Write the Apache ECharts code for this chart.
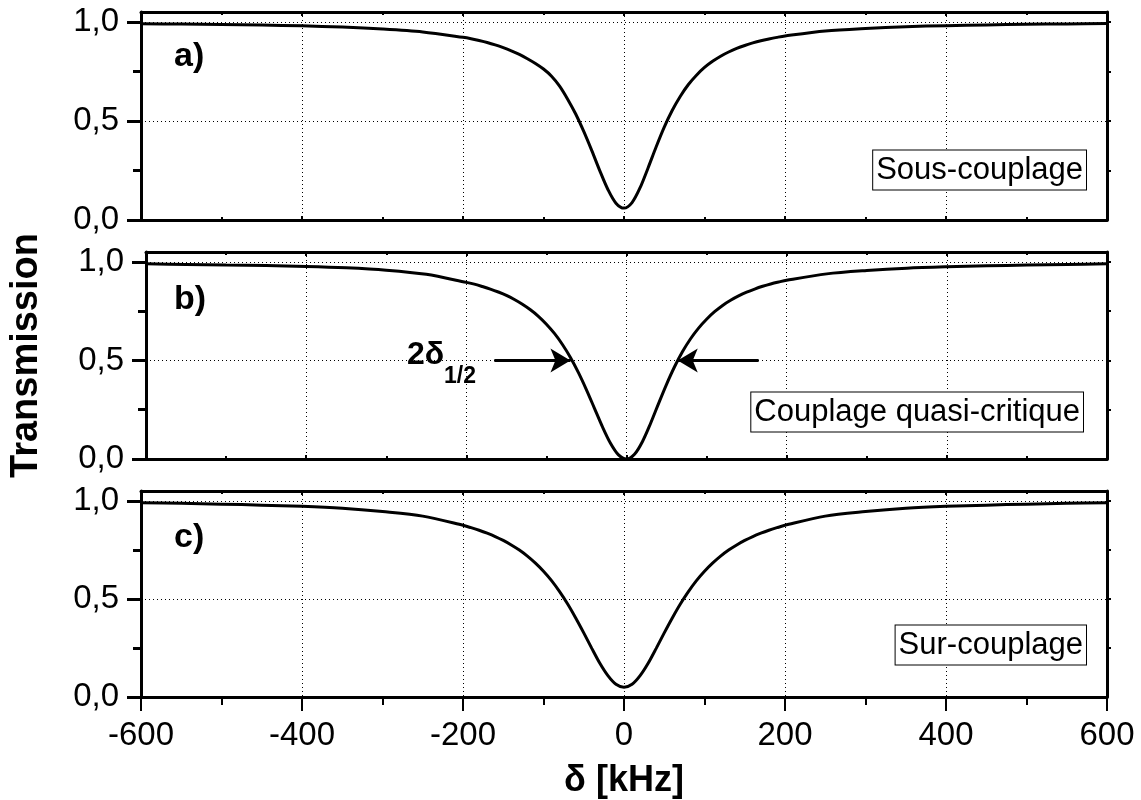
<!DOCTYPE html>
<html>
<head>
<meta charset="utf-8">
<script src="https://cdn.jsdelivr.net/npm/echarts@6/dist/echarts.min.js"></script>
<style>
  html, body { margin: 0; padding: 0; background: #fff; }
  #chart { width: 1141px; height: 800px; }
</style>
</head>
<body>
<div id="chart"></div>
<script>
const deltaKHz = [
  -600, -550, -500, -450, -400, -350, -300, -250,
  -200, -190, -180, -170, -160, -150, -140, -130, -120, -110,
  -100, -90, -80, -70, -60, -50, -40, -30, -20, -10,
  0,
  10, 20, 30, 40, 50, 60, 70, 80, 90, 100,
  110, 120, 130, 140, 150, 160, 170, 180, 190, 200,
  250, 300, 350, 400, 450, 500, 550, 600
]
// a) Sous-couplage
const transA = [
  0.991, 0.989, 0.987, 0.984, 0.980, 0.974, 0.964, 0.949,
  0.922, 0.915, 0.906, 0.896, 0.884, 0.870, 0.854, 0.836, 0.814, 0.790,
  0.762, 0.726, 0.676, 0.610, 0.535, 0.447, 0.350, 0.248, 0.154, 0.085,
  0.060,
  0.088, 0.163, 0.264, 0.370, 0.469, 0.554, 0.625, 0.684, 0.731, 0.770,
  0.801, 0.827, 0.848, 0.866, 0.881, 0.894, 0.905, 0.914, 0.922, 0.929,
  0.954, 0.967, 0.976, 0.981, 0.985, 0.988, 0.990, 0.992
]
// b) Couplage quasi-critique
const transB = [
  0.990, 0.987, 0.984, 0.981, 0.977, 0.970, 0.958, 0.937,
  0.896, 0.887, 0.875, 0.862, 0.847, 0.830, 0.809, 0.785, 0.757, 0.724,
  0.684, 0.637, 0.581, 0.515, 0.438, 0.351, 0.257, 0.163, 0.080, 0.021,
  0.0,
  0.024, 0.089, 0.180, 0.281, 0.379, 0.468, 0.545, 0.610, 0.664, 0.709,
  0.747, 0.779, 0.805, 0.827, 0.846, 0.862, 0.876, 0.888, 0.898, 0.907,
  0.939, 0.956, 0.968, 0.975, 0.980, 0.984, 0.987, 0.990
]
// c) Sur-couplage
const transC = [
  0.990, 0.987, 0.983, 0.978, 0.972, 0.962, 0.945, 0.922,
  0.875, 0.863, 0.850, 0.835, 0.818, 0.798, 0.775, 0.749, 0.718, 0.682,
  0.641, 0.593, 0.537, 0.474, 0.403, 0.327, 0.248, 0.172, 0.109, 0.065,
  0.050,
  0.065, 0.109, 0.172, 0.248, 0.327, 0.403, 0.474, 0.537, 0.593, 0.641,
  0.682, 0.718, 0.749, 0.775, 0.798, 0.818, 0.835, 0.850, 0.863, 0.875,
  0.922, 0.945, 0.962, 0.972, 0.978, 0.983, 0.987, 0.990
]
const panelLabels = ['a)', 'b)', 'c)']
const regimeLabels = ['Sous-couplage', 'Couplage quasi-critique', 'Sur-couplage']
const xTicks = [-600, -400, -200, 0, 200, 400, 600]
const yTicks = [0, 0.5, 1.0]
const yMinorTicks = [0.25, 0.75]
// width markers 2δ1/2 in panel b: [tail, tip]
const halfWidthArrows = [[[-165, 0.5], [-70, 0.5]], [[165, 0.5], [64, 0.5]]]

const FONT = 'Liberation Sans, Arial, sans-serif'
const chart = echarts.init(document.getElementById('chart'))

const grids = [
  { left: 141, right: 34, top: 12, height: 208 },
  { left: 141, right: 34, top: 252, height: 207 },
  { left: 141, right: 34, top: 491, height: 207 }
]
const dotted = { color: '#000', width: 1, type: [1, 3] }
const frame = { show: true, onZero: false, lineStyle: { color: '#000', width: 3 } }

let xAxes = []
let yAxes = []
grids.forEach((g, i) => {
  const last = i === grids.length - 1
  xAxes.push({
    type: 'value', gridIndex: i, position: 'bottom',
    min: -600, max: 600, interval: 200,
    axisLine: frame,
    axisTick: { show: true, inside: !last, length: last ? 14 : 4, lineStyle: { width: 2, color: '#000' } },
    minorTick: { show: true, splitNumber: 2, length: last ? 8 : 3, lineStyle: { width: 2, color: '#000' } },
    axisLabel: {
      show: last, margin: 22, color: '#000', fontFamily: FONT, fontSize: 33,
      customValues: xTicks
    },
    splitLine: { show: true, lineStyle: dotted },
    name: last ? 'δ [kHz]' : '', nameLocation: 'middle', nameGap: 66,
    nameTextStyle: { color: '#000', fontFamily: FONT, fontSize: 36, fontWeight: 'bold' }
  })
  xAxes.push({
    type: 'value', gridIndex: i, position: 'top',
    min: -600, max: 600, interval: 200,
    axisLine: frame,
    axisTick: { show: true, inside: true, length: 4, lineStyle: { width: 2, color: '#000' } },
    minorTick: { show: true, splitNumber: 2, length: 3, lineStyle: { width: 2, color: '#000' } },
    axisLabel: { show: false },
    splitLine: { show: false }
  })
  yAxes.push({
    type: 'value', gridIndex: i, position: 'left',
    min: 0, max: 1.05, interval: 0.5,
    axisLine: frame,
    axisTick: { show: true, length: 14, customValues: yTicks, lineStyle: { width: 3, color: '#000' } },
    axisLabel: {
      margin: 22, color: '#000', fontFamily: FONT, fontSize: 33,
      customValues: yTicks,
      formatter: v => v.toFixed(1).replace('.', ',')
    },
    splitLine: { show: true, lineStyle: dotted },
    name: i === 1 ? 'Transmission' : '', nameLocation: 'middle', nameGap: 100, nameRotate: 90,
    nameTextStyle: { color: '#000', fontFamily: FONT, fontSize: 38, fontWeight: 'bold' }
  })
  yAxes.push({
    type: 'value', gridIndex: i, position: 'left',
    min: 0, max: 1.05,
    axisLine: { show: false, onZero: false },
    axisTick: { show: true, length: 8, customValues: yMinorTicks, lineStyle: { width: 3, color: '#000' } },
    axisLabel: { show: false },
    splitLine: { show: false }
  })
  yAxes.push({
    type: 'value', gridIndex: i, position: 'right',
    min: 0, max: 1.05,
    axisLine: frame,
    axisTick: { show: true, length: 4, customValues: [0.25, 0.5, 0.75, 1.0], lineStyle: { width: 2, color: '#000' } },
    axisLabel: { show: false },
    splitLine: { show: false }
  })
})

const curves = [transA, transB, transC]
const series = curves.map((vals, i) => {
  let s = {
    type: 'line',
    xAxisIndex: i * 2,
    yAxisIndex: i * 3,
    data: deltaKHz.map((x, k) => [x, vals[k]]),
    smooth: 0.3,
    showSymbol: false,
    lineStyle: { color: '#000', width: 3 },
    silent: true,
    z: 5
  }
  if (i === 1) {
    s.markLine = {
      silent: true,
      symbol: ['none', 'arrow'],
      symbolSize: [18, 20],
      label: { show: false },
      lineStyle: { color: '#000', width: 3, type: 'solid' },
      data: halfWidthArrows.map(a => [{ coord: a[0] }, { coord: a[1] }])
    }
  }
  return s
})

let graphics = []
const labelY = [59, 302, 540]
panelLabels.forEach((t, i) => {
  graphics.push({
    type: 'text', left: 174, top: labelY[i] - 19,
    style: { text: t, fill: '#000', font: 'bold 34px ' + FONT }
  })
})
const boxRight = [1086, 1083, 1086]
const boxCenterY = [170, 412, 645]
regimeLabels.forEach((t, i) => {
  graphics.push({
    type: 'text', x: boxRight[i], y: boxCenterY[i],
    style: {
      text: t, fill: '#000', font: '31px ' + FONT,
      align: 'right', verticalAlign: 'middle',
      backgroundColor: '#fff', borderColor: '#000', borderWidth: 1,
      padding: [5, 3, 3, 3]
    },
    z: 10
  })
})
graphics.push({
  type: 'text', x: 407, y: 355,
  style: { text: '2δ', fill: '#000', font: 'bold 32px ' + FONT, verticalAlign: 'middle' },
  z: 10
})
graphics.push({
  type: 'text', x: 444, y: 377,
  style: { text: '1/2', fill: '#000', font: 'bold 23px ' + FONT, verticalAlign: 'middle' },
  z: 10
})

chart.setOption({
  animation: false,
  backgroundColor: '#fff',
  grid: grids,
  xAxis: xAxes,
  yAxis: yAxes,
  series: series,
  graphic: graphics
})
</script>
</body>
</html>
